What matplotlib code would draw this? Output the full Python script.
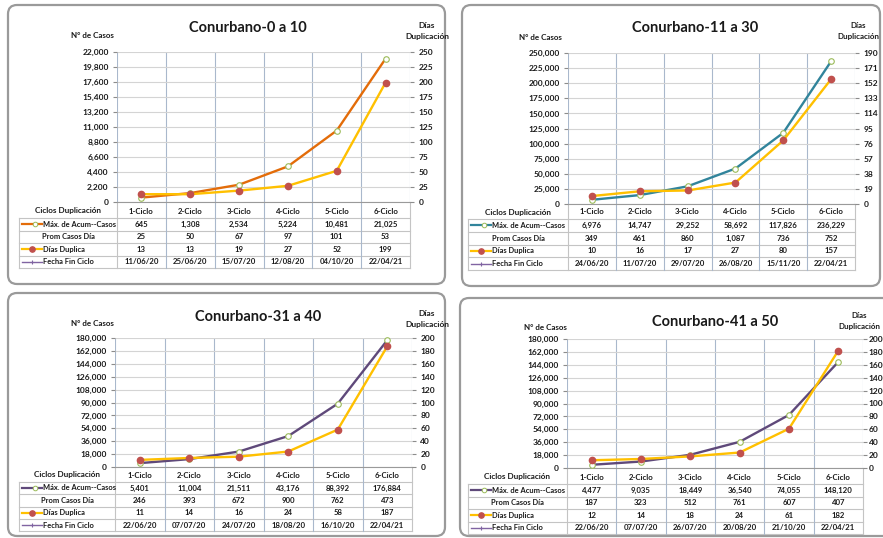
import matplotlib
matplotlib.use('Agg')
import matplotlib.pyplot as plt
from matplotlib.patches import FancyBboxPatch
from matplotlib.ticker import FuncFormatter, MultipleLocator

plt.rcParams['font.family'] = ['Lato', 'DejaVu Sans']

W, H = 883, 538

cycles = ['1-Ciclo', '2-Ciclo', '3-Ciclo', '4-Ciclo', '5-Ciclo', '6-Ciclo']
titles = ['Conurbano-0 a 10', 'Conurbano-11 a 30', 'Conurbano-31 a 40', 'Conurbano-41 a 50']
row_labels = ['Máx. de Acum--Casos', 'Prom Casos Día', 'Días Duplica', 'Fecha Fin Ciclo']
header_label = 'Ciclos Duplicación'
left_label = 'N° de Casos'
right_label = 'Días\nDuplicación'

casos_0_10 = [645, 1308, 2534, 5224, 10481, 21025]
prom_0_10 = [25, 50, 67, 97, 101, 53]
dias_0_10 = [13, 13, 19, 27, 52, 199]
fecha_0_10 = ['11/06/20', '25/06/20', '15/07/20', '12/08/20', '04/10/20', '22/04/21']

casos_11_30 = [6976, 14747, 29252, 58692, 117826, 236229]
prom_11_30 = [349, 461, 860, 1087, 736, 752]
dias_11_30 = [10, 16, 17, 27, 80, 157]
fecha_11_30 = ['24/06/20', '11/07/20', '29/07/20', '26/08/20', '15/11/20', '22/04/21']

casos_31_40 = [5401, 11004, 21511, 43176, 88392, 176884]
prom_31_40 = [246, 393, 672, 900, 762, 473]
dias_31_40 = [11, 14, 16, 24, 58, 187]
fecha_31_40 = ['22/06/20', '07/07/20', '24/07/20', '18/08/20', '16/10/20', '22/04/21']

casos_41_50 = [4477, 9035, 18449, 36540, 74055, 148120]
prom_41_50 = [187, 323, 512, 761, 607, 407]
dias_41_50 = [12, 14, 18, 24, 61, 182]
fecha_41_50 = ['22/06/20', '07/07/20', '26/07/20', '20/08/20', '21/10/20', '22/04/21']

YELLOW = '#FFC000'
RED = '#C0504D'
HOLLOW_EDGE = '#9BBB59'
FECHA_COL = '#8064A2'
TXT = '#1a1a1a'
VGRID = '#a9b8cc'
HGRID = '#d4d4d4'
TBL = '#c4c4c4'

fig = plt.figure(figsize=(W / 100, H / 100), dpi=100)
ov = fig.add_axes([0, 0, 1, 1], zorder=0)
ov.set_xlim(0, W)
ov.set_ylim(H, 0)
ov.axis('off')


def fax(x0, y0, x1, y1):
    return [x0 / W, 1 - y1 / H, (x1 - x0) / W, (y1 - y0) / H]


def fmt_int(v):
    return f'{int(round(v)):,}'


def draw_panel(title, casos, prom, dias, fechas, color, ymax_l, step_l, ymax_r, step_r,
               box, plot, title_xy, lab_l_xy, lab_r_xy, tbl_left, header_y, rows_y,
               rpad=3, lab_r_fs=6):
    bx0, by0, bx1, by1 = box
    ov.add_patch(FancyBboxPatch((bx0, by0), bx1 - bx0, by1 - by0,
                                boxstyle='round,pad=0,rounding_size=9',
                                fc='white', ec='#9a9a9a', lw=1.6))
    px0, py0, px1, py1 = plot
    ov.text(title_xy[0], title_xy[1], title, ha='center', va='center',
            fontsize=10.5, weight='bold', color=TXT)
    ov.text(lab_l_xy[0], lab_l_xy[1], left_label, ha='center', va='center',
            fontsize=5.8, weight='bold', color=TXT)
    ov.text(lab_r_xy[0], lab_r_xy[1], right_label, ha='center', va='center',
            fontsize=lab_r_fs, weight='bold', color=TXT, linespacing=1.5)

    ax = fig.add_axes(fax(px0, py0, px1, py1), zorder=2)
    ax.patch.set_alpha(0)
    ax.set_xlim(0, 6)
    ax.set_ylim(0, ymax_l)
    ax.yaxis.set_major_locator(MultipleLocator(step_l))
    ax.yaxis.set_major_formatter(FuncFormatter(lambda v, p: fmt_int(v)))
    ax.set_xticks(range(7))
    ax.set_xticklabels([])
    ax.tick_params(axis='x', length=0)
    ax.tick_params(axis='y', length=3, width=0.8, color='#8c8c8c', pad=3,
                   labelsize=6, labelcolor=TXT, direction='out')
    for lab in ax.get_yticklabels():
        lab.set_fontweight('bold')
    ax.grid(axis='y', color=HGRID, lw=0.8)
    ax.grid(axis='x', color=VGRID, lw=0.8)
    ax.set_axisbelow(True)
    for s in ax.spines.values():
        s.set_visible(False)
    ax.spines['bottom'].set_visible(True)
    ax.spines['bottom'].set_color('#9a9a9a')
    ax.spines['bottom'].set_linewidth(0.8)

    xs = [i + 0.5 for i in range(len(cycles))]
    ax.plot(xs, casos, color=color, lw=1.7, marker='o', ms=4, mfc='white',
            mec=HOLLOW_EDGE, mew=0.8, zorder=3, clip_on=False)

    ax2 = ax.twinx()
    ax2.set_ylim(0, ymax_r)
    ax2.yaxis.set_major_locator(MultipleLocator(step_r))
    ax2.yaxis.set_major_formatter(FuncFormatter(lambda v, p: fmt_int(v)))
    ax2.tick_params(axis='y', length=3, width=0.8, color='#8c8c8c', pad=rpad,
                    labelsize=6, labelcolor=TXT, direction='out')
    for lab in ax2.get_yticklabels():
        lab.set_fontweight('bold')
    for s in ax2.spines.values():
        s.set_visible(False)
    ax2.plot(xs, dias, color=YELLOW, lw=1.7, marker='o', ms=4.5, mfc=RED, mec=RED,
             zorder=4, clip_on=False)

    # table
    cols = [px0 + (px1 - px0) * i / 6 for i in range(7)]
    centers = [(cols[i] + cols[i + 1]) / 2 for i in range(6)]
    lab_c = (tbl_left + px0) / 2
    fs = 5.6
    lfs = 5.4
    ov.text(lab_c, header_y, header_label, ha='center', va='center',
            fontsize=5.9, weight='bold', color=TXT)
    for c, t in zip(centers, cycles):
        ov.text(c, header_y, t, ha='center', va='center', fontsize=fs,
                weight='bold', color=TXT)
    for y in rows_y:
        ov.plot([tbl_left, px1], [y, y], color=TBL, lw=0.8)
    ov.plot([tbl_left, tbl_left], [rows_y[0], rows_y[-1]], color=TBL, lw=0.8)
    for c in cols:
        ov.plot([c, c], [py1, rows_y[-1]], color=VGRID if c not in (cols[0], cols[-1]) else TBL, lw=0.8)
    rows_vals = [[fmt_int(v) for v in casos], [fmt_int(v) for v in prom],
                 [fmt_int(v) for v in dias], list(fechas)]
    for r in range(4):
        yc = (rows_y[r] + rows_y[r + 1]) / 2
        for c, t in zip(centers, rows_vals[r]):
            ov.text(c, yc, t, ha='center', va='center', fontsize=fs,
                    weight='bold', color=TXT)
        k0, k1 = tbl_left + 3, tbl_left + 23
        if r == 0:
            ov.plot([k0, k1], [yc, yc], color=color, lw=1.6)
            ov.plot([(k0 + k1) / 2 + 3], [yc], marker='o', ms=3.3, mfc='white',
                    mec=HOLLOW_EDGE, mew=0.7)
        elif r == 2:
            ov.plot([k0, k1], [yc, yc], color=YELLOW, lw=1.6)
            ov.plot([(k0 + k1) / 2], [yc], marker='o', ms=3.8, mfc=RED, mec=RED)
        elif r == 3:
            ov.plot([k0, k1], [yc, yc], color=FECHA_COL, lw=1.0)
            ov.plot([(k0 + k1) / 2], [yc], marker='+', ms=3.5, color=FECHA_COL, mew=0.8)
        if r == 1:
            ov.text(lab_c, yc, row_labels[r], ha='center', va='center', fontsize=lfs,
                    weight='bold', color=TXT)
        else:
            ov.text(k1 + 1, yc, row_labels[r], ha='left', va='center', fontsize=lfs,
                    weight='bold', color=TXT)


draw_panel(titles[0], casos_0_10, prom_0_10, dias_0_10, fecha_0_10, '#E36C09',
           22000, 2200, 250, 25,
           box=(8, 5, 445, 284), plot=(117, 52, 410, 202), title_xy=(248, 28),
           lab_l_xy=(92, 35), lab_r_xy=(427, 31), tbl_left=19, header_y=211,
           rows_y=[218, 230.5, 243, 255.5, 268])

draw_panel(titles[1], casos_11_30, prom_11_30, dias_11_30, fecha_11_30, '#31849B',
           250000, 25000, 190, 19,
           box=(462, 5, 880, 286), plot=(568, 53, 855, 204), title_xy=(695, 28),
           lab_l_xy=(540, 37), lab_r_xy=(858, 31), tbl_left=468, header_y=212,
           rows_y=[219, 231.7, 244.5, 257, 270], lab_r_fs=5.8)

draw_panel(titles[2], casos_31_40, prom_31_40, dias_31_40, fecha_31_40, '#5F497A',
           180000, 18000, 200, 20,
           box=(8, 293, 445, 536), plot=(115, 338, 412, 467), title_xy=(258, 317),
           lab_l_xy=(92, 323), lab_r_xy=(427, 319), tbl_left=19, header_y=475,
           rows_y=[482, 494, 506.5, 519, 531])

draw_panel(titles[3], casos_41_50, prom_41_50, dias_41_50, fecha_41_50, '#5F497A',
           180000, 18000, 200, 20,
           box=(460, 298, 892, 536), plot=(567, 339, 863, 468), title_xy=(715, 322),
           lab_l_xy=(545, 327), lab_r_xy=(859, 321), tbl_left=468, header_y=477,
           rows_y=[484, 496.5, 509, 521.5, 534], rpad=1, lab_r_fs=5.8)

fig.savefig('out.png', dpi=100)
